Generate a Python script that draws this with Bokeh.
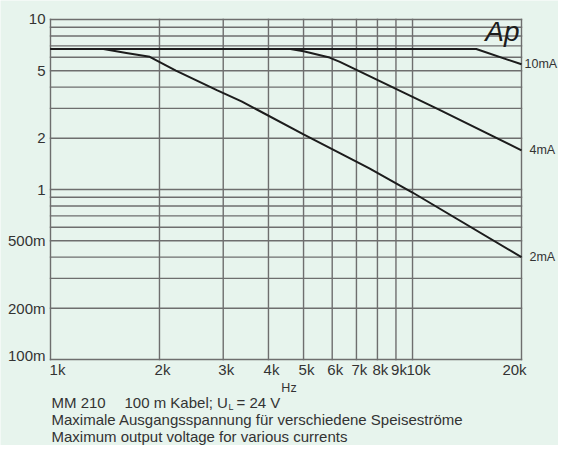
import math
from bokeh.plotting import figure
from bokeh.models import Range1d
from bokeh.core.properties import value
from bokeh.embed import file_html
from bokeh.resources import INLINE

# ---------------- data ----------------
f_10mA = [1000, 15000, 20000]
v_10mA = [6.7, 6.7, 5.45]

f_4mA = [1000, 4600, 5000, 5900, 6300, 11800, 20000]
v_4mA = [6.7, 6.7, 6.5, 5.97, 5.63, 2.96, 1.70]

f_2mA = [1000, 1400, 1620, 1880, 2220, 2880, 3370, 5000, 7600, 10000, 20000]
v_2mA = [6.7, 6.7, 6.36, 6.03, 5.0, 3.84, 3.30, 2.11, 1.33, 0.96, 0.40]

curve_names = ["10mA", "4mA", "2mA"]

X_LO, X_HI = 1000, 20000
Y_LO, Y_HI = 0.1, 10

x_ticks = [1000, 2000, 3000, 4000, 5000, 6000, 7000, 8000, 9000, 10000, 20000]
x_tick_labels = ["1k", "2k", "3k", "4k", "5k", "6k", "7k", "8k", "9k", "10k", "20k"]

y_major = [0.1, 0.2, 0.5, 1, 2, 5, 10]
y_major_labels = ["100m", "200m", "500m", "1", "2", "5", "10"]
y_minor = [0.3, 0.4, 0.6, 0.7, 0.8, 0.9, 3, 4, 6, 7, 8, 9]

x_axis_title = "Hz"
caption_1a = "MM 210"
caption_1b = "100 m Kabel; U"
caption_1sub = "L"
caption_1c = "= 24 V"
caption_2 = "Maximale Ausgangsspannung für verschiedene Speiseströme"
caption_3 = "Maximum output voltage for various currents"
logo = "Ap"

# ---------------- styles / layout ----------------
BG = "#e7f4ed"
GRID = "#6e6e6e"
INK = "#1c1c1c"
TXT = "#333333"
FONT = "Liberation Sans"
x_label_dx = [7, 3, 3, 3, 3, 3, 3, 3, 3, 6, -7]
y_label_dy = [-4, 0, 0, 0, 0, 0, -1]
end_label_dx = [3, 8, 8]

W, H = 558, 445
PX0, PX1 = 50, 521      # plot box left/right in canvas pixels
PY0, PY1 = 19, 359      # plot box top/bottom in canvas pixels

dxp = (PX1 - PX0) / math.log10(X_HI / X_LO)
dyp = (PY1 - PY0) / math.log10(Y_HI / Y_LO)
x_range = Range1d(X_LO * 10 ** (-PX0 / dxp), X_HI * 10 ** ((W - PX1) / dxp))
y_range = Range1d(Y_LO * 10 ** (-(H - PY1) / dyp), Y_HI * 10 ** (PY0 / dyp))

p = figure(width=W, height=H, x_axis_type="log", y_axis_type="log",
           x_range=x_range, y_range=y_range, title=None,
           output_backend="svg", toolbar_location=None)
p.min_border = 0
p.axis.visible = False
p.grid.visible = False
p.outline_line_color = None
p.background_fill_color = BG
p.border_fill_color = BG

# grid of the chart
nx = len(x_ticks)
p.segment(x0=x_ticks, y0=[Y_LO] * nx, x1=x_ticks, y1=[Y_HI] * nx,
          line_color=GRID, line_width=1.4, line_cap="square")
hy = y_major + y_minor
ny = len(hy)
p.segment(x0=[X_LO] * ny, y0=hy, x1=[X_HI] * ny, y1=hy,
          line_color=GRID, line_width=1.4, line_cap="square")

# curves
curves = [(f_10mA, v_10mA), (f_4mA, v_4mA), (f_2mA, v_2mA)]
for fx, vy in curves:
    p.line(fx, vy, line_color=INK, line_width=2)

def txt(x, y, text, dx=0, dy=0, size="15px", align="left",
        style="normal", color=TXT):
    p.text(x=x, y=y, text=text, x_offset=dx, y_offset=dy, text_align=align,
           text_baseline="middle", text_font=value(FONT), text_font_size=size,
           text_font_style=style, text_color=color)

# y tick labels
txt([X_LO] * len(y_major), y_major, y_major_labels, dx=-5, dy=y_label_dy,
    align="right")

# x tick labels
txt(x_ticks, [Y_LO] * nx, x_tick_labels, dx=x_label_dx, dy=10, align="center")

# curve-end labels
txt([fx[-1] for fx, _ in curves], [vy[-1] for _, vy in curves], curve_names,
    dx=end_label_dx, size="12.5px")

# logo
txt([X_HI], [Y_HI], [logo], dx=-2, dy=12, size="28px", align="right",
    style="italic", color=INK)

# axis title
txt([math.sqrt(X_LO * X_HI)], [Y_LO], [x_axis_title], dx=3, dy=28,
    size="12.5px", align="center")

# captions
txt([X_LO], [Y_LO], [caption_1a], dx=1, dy=42.5)
txt([X_LO], [Y_LO], [caption_1b], dx=74, dy=42.5)
txt([X_LO], [Y_LO], [caption_1sub], dx=178, dy=47.5, size="9px")
txt([X_LO], [Y_LO], [caption_1c], dx=186, dy=42.5)
txt([X_LO], [Y_LO], [caption_2], dx=1, dy=60)
txt([X_LO], [Y_LO], [caption_3], dx=1, dy=76.5)

open("out.html", "w").write(file_html(p, INLINE))
